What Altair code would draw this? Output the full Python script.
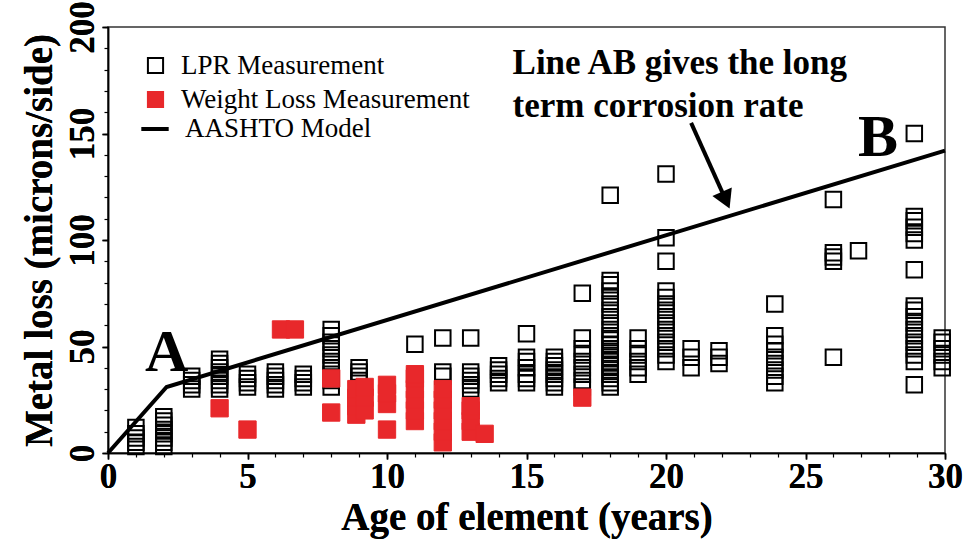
import altair as alt
import pandas as pd

RED = "#e8282b"
POINT_SERIES = ["LPR Measurement", "Weight Loss Measurement"]
LINE_SERIES = ["AASHTO Model"]

# LPR measurements: column age (years) -> metal loss values (microns/side)
lpr_ages = [1, 2, 3, 4, 5, 6, 7, 8, 9, 11, 12, 13, 14, 15, 16, 17, 18, 19, 20,
            20.9, 21.9, 23.9, 26, 26.9, 28.9, 29.9]
lpr_values = [
    [3, 5, 7, 9, 12],
    [3, 5, 7, 9, 11, 13, 15, 17],
    [30, 32, 34, 36],
    [30, 32, 34, 36, 38, 40, 42, 44],
    [31, 33, 35, 37],
    [30, 32, 34, 36, 38],
    [31, 33, 35, 37],
    [31, 34, 37, 40, 43, 46, 49, 52, 55, 58],
    [34, 36, 38, 40],
    [36, 51],
    [36, 38, 54],
    [30, 32, 34, 36, 38, 54],
    [33, 35, 37, 39, 41],
    [33, 35, 37, 40, 43, 45, 56],
    [31, 33, 35, 37, 39, 41, 43, 45],
    [31, 34, 37, 40, 43, 46, 49, 54, 75],
    [31, 33, 35, 37, 39, 41, 43, 45, 47, 49, 51, 53, 55, 58, 61, 64, 67, 70,
     73, 76, 79, 81, 121],
    [37, 40, 43, 46, 49, 54],
    [43, 46, 49, 52, 55, 58, 61, 64, 67, 70, 73, 76, 90, 101, 131],
    [40, 45, 49],
    [42, 45, 48],
    [33, 36, 39, 42, 45, 48, 51, 55, 70],
    [45, 90, 92, 94, 119],
    [95],
    [32, 43, 46, 49, 52, 55, 58, 61, 64, 67, 69, 86, 100, 103, 106, 109, 111, 150],
    [40, 43, 46, 49, 52, 54],
]

# Weight loss measurements
wl_ages = [4, 5, 6.2, 6.7, 8, 8.9, 9.2, 10, 11, 12, 13, 13.5, 17]
wl_values = [
    [21],
    [11],
    [58],
    [58],
    [19, 35],
    [18, 22, 26, 30],
    [20, 26, 31],
    [11, 23, 28, 32],
    [15, 20, 25, 30, 35, 37],
    [5, 10, 15, 20, 25, 30],
    [10, 15, 20, 22],
    [9],
    [26],
]

# AASHTO model line (A -> B)
model_ages = [0, 2.1, 30]
model_loss = [0, 31, 142]

# Annotations
anno_text = ["A", "B"]
anno_age = [2.1, 27.6]
anno_loss = [47, 148]
note_lines = ["Line AB gives the long", "term corrosion rate"]
note_age = [14.5, 14.5]
note_loss = [183, 163]
arrow_age = [20.9, 22.1]
arrow_loss = [155, 120]

# axis tick values
x_major = list(range(0, 31, 5))
y_major = list(range(0, 201, 50))
x_minor = list(range(0, 31))
y_minor = list(range(0, 201, 10))

lpr_df = pd.DataFrame(
    [(a, v, POINT_SERIES[0]) for a, vals in zip(lpr_ages, lpr_values) for v in vals],
    columns=["age", "loss", "series"])
wl_df = pd.DataFrame(
    [(a, v, POINT_SERIES[1]) for a, vals in zip(wl_ages, wl_values) for v in vals],
    columns=["age", "loss", "series"])
model_df = pd.DataFrame({"age": model_ages, "loss": model_loss,
                         "model": LINE_SERIES * len(model_ages)})
anno_df = pd.DataFrame({"age": anno_age, "loss": anno_loss, "text": anno_text})
note_df = pd.DataFrame({"age": note_age, "loss": note_loss, "text": note_lines})
arrow_df = pd.DataFrame({"age": arrow_age, "loss": arrow_loss})
tip_df = arrow_df.tail(1)

FONT = "Liberation Serif, Times New Roman, serif"

xscale = alt.Scale(domain=[0, 30], nice=False, zero=False)
yscale = alt.Scale(domain=[0, 200], nice=False)

xaxis = alt.Axis(
    values=x_major, orient="bottom",
    labelOverlap=False,
    title="Age of element (years)",
    grid=False, tickSize=6, tickWidth=1.5, tickColor="black",
    domainColor="black", domainWidth=1.5,
    labelFont=FONT, labelFontSize=35, labelFontWeight="bold", labelColor="black",
    labelPadding=0, labelFlush=False,
    titleFont=FONT, titleFontSize=39, titleFontWeight="bold", titleColor="black",
    titlePadding=4,
)
yaxis = alt.Axis(
    values=y_major, orient="left",
    labelOverlap=False,
    title="Metal loss (microns/side)",
    grid=False, tickSize=6, tickWidth=1.5, tickColor="black",
    domainColor="black", domainWidth=1.5,
    labelFont=FONT, labelFontSize=35, labelFontWeight="bold", labelColor="black",
    labelAngle=270, labelAlign="center", labelBaseline="bottom",
    labelPadding=2, labelFlush=False,
    titleFont=FONT, titleFontSize=39, titleFontWeight="bold", titleColor="black",
    titlePadding=6,
)
x_minor_axis = alt.Axis(
    values=x_minor, orient="bottom", labels=False, domain=False, grid=False,
    title=None, tickSize=4, tickWidth=1.2, tickColor="black")
y_minor_axis = alt.Axis(
    values=y_minor, orient="left", labels=False, domain=False, grid=False,
    title=None, tickSize=4, tickWidth=1.2, tickColor="black")

pt_legend = alt.Legend(
    title=None, orient="none", legendX=34, legendY=25,
    labelFont=FONT, labelFontSize=27, labelColor="black", labelLimit=500,
    rowPadding=6, labelOffset=12, symbolSize=230, symbolStrokeWidth=2,
)
line_legend = alt.Legend(
    title=None, orient="none", legendX=31, legendY=86,
    labelFont=FONT, labelFontSize=27, labelColor="black", labelLimit=500,
    labelOffset=14, symbolType="stroke", symbolSize=750, symbolStrokeWidth=4,
    symbolStrokeColor="black",
)

SER = "series:N"
fill_enc = alt.Fill(SER, scale=alt.Scale(domain=POINT_SERIES, range=["transparent", RED]), legend=pt_legend)
stroke_enc = alt.Stroke(SER, scale=alt.Scale(domain=POINT_SERIES, range=["black", RED]), legend=pt_legend)
shape_enc = alt.Shape(SER, scale=alt.Scale(domain=POINT_SERIES, range=["square", "square"]), legend=pt_legend)

lpr = alt.Chart(lpr_df).mark_point(opacity=1, size=240, strokeWidth=2).encode(
    x=alt.X("age:Q", scale=xscale, axis=xaxis),
    y=alt.Y("loss:Q", scale=yscale, axis=yaxis),
    fill=fill_enc, stroke=stroke_enc, shape=shape_enc)
wl = alt.Chart(wl_df).mark_point(opacity=1, size=300, strokeWidth=1).encode(
    x=alt.X("age:Q", scale=xscale, axis=xaxis),
    y=alt.Y("loss:Q", scale=yscale, axis=yaxis),
    fill=fill_enc, stroke=stroke_enc, shape=shape_enc)
line = alt.Chart(model_df).mark_line(strokeWidth=4).encode(
    x=alt.X("age:Q", scale=xscale, axis=x_minor_axis),
    y=alt.Y("loss:Q", scale=yscale, axis=y_minor_axis),
    color=alt.Color("model:N", scale=alt.Scale(domain=LINE_SERIES, range=["black"]),
                    legend=line_legend))
letters = alt.Chart(anno_df).mark_text(
    font=FONT, fontSize=60, fontWeight="bold", color="black",
    align="center", baseline="middle").encode(
    x=alt.X("age:Q", scale=xscale, axis=None),
    y=alt.Y("loss:Q", scale=yscale, axis=None), text="text:N")
notes = alt.Chart(note_df).mark_text(
    font=FONT, fontSize=35, fontWeight="bold", color="black",
    align="left", baseline="middle").encode(
    x=alt.X("age:Q", scale=xscale, axis=None),
    y=alt.Y("loss:Q", scale=yscale, axis=None), text="text:N")
arrow = alt.Chart(arrow_df).mark_line(color="black", strokeWidth=4).encode(
    x=alt.X("age:Q", scale=xscale, axis=None),
    y=alt.Y("loss:Q", scale=yscale, axis=None))
tip = alt.Chart(tip_df).mark_point(
    shape="triangle", angle=156, size=450, filled=True, color="black", opacity=1
).encode(
    x=alt.X("age:Q", scale=xscale, axis=None),
    y=alt.Y("loss:Q", scale=yscale, axis=None))

chart = alt.layer(lpr, wl, line, letters, notes, arrow, tip).resolve_legend(
    color="independent"
).resolve_axis(
    x="independent", y="independent"
).properties(
    width=837, height=426,
    autosize=alt.AutoSizeParams(type="none"),
    padding={"left": 108, "top": 27, "right": 18, "bottom": 90},
    background="white",
).configure_view(stroke="#333", strokeWidth=1.5)

chart.save("out.html", embed_options={"renderer": "svg", "actions": False})
